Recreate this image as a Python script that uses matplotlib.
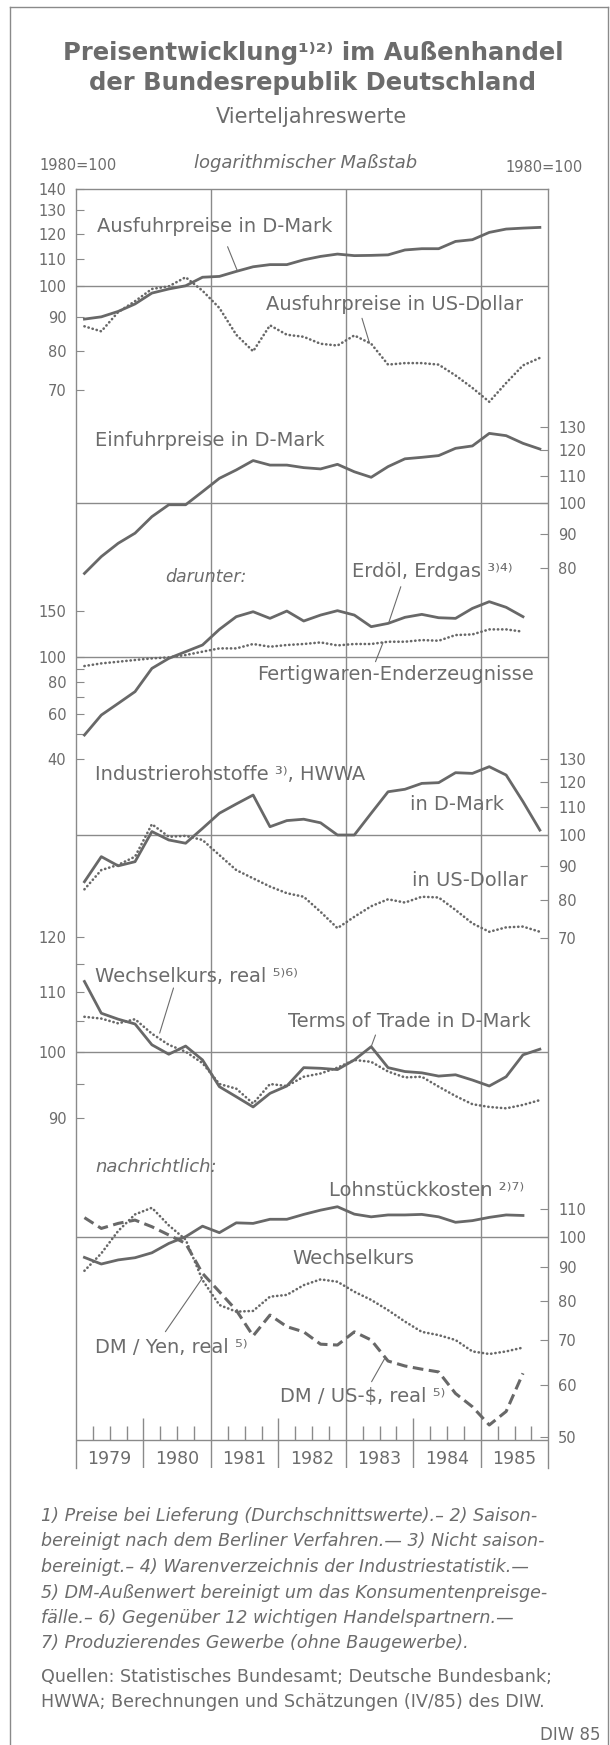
import numpy as np
import matplotlib
matplotlib.use("Agg")
from matplotlib import pyplot as plt
from matplotlib.ticker import NullLocator

# --- Daten: Vierteljahreswerte 1979 I - 1985 IV, 1980 = 100 ---
years = [1979, 1980, 1981, 1982, 1983, 1984, 1985]
quarters = [1, 2, 3, 4]

ausfuhr_dm = [89.3, 90.0, 91.7, 94.1, 97.7, 99.1, 100.2, 103.2, 103.5, 105.3, 107.0, 107.8, 107.8, 109.6,
              110.9, 111.8, 111.2, 111.3, 111.5, 113.4, 113.9, 113.9, 116.8, 117.5, 120.5, 121.9, 122.3, 122.6]
ausfuhr_usd = [87.1, 85.6, 91.5, 95.0, 99.1, 100.0, 103.2, 98.5, 92.8, 84.6, 79.9, 87.4, 84.6, 84.0,
               82.0, 81.5, 84.4, 82.0, 76.3, 76.7, 76.7, 76.3, 73.5, 70.4, 67.1, 71.6, 76.1, 78.1]
einfuhr_dm = [78.5, 83.2, 87.1, 90.2, 95.5, 99.5, 99.5, 104.1, 109.0, 112.2, 115.9, 114.1, 114.1, 113.1,
              112.6, 114.4, 111.5, 109.4, 113.5, 116.6, 117.2, 117.9, 120.9, 121.9, 127.3, 126.3, 123.0, 120.6]
erdoel_erdgas = [49.7, 59.4, 65.9, 73.2, 90.1, 98.5, 104.6, 111.0, 127.6, 142.9, 149.4, 140.8, 150.3, 137.5,
                 145.0, 150.8, 145.0, 130.7, 134.6, 142.1, 145.9, 141.6, 140.8, 153.9, 163.4, 155.4, 142.9]
fertigwaren = [92.0, 94.2, 95.6, 97.1, 98.5, 99.4, 101.5, 104.6, 107.7, 107.7, 112.0, 109.3, 111.0, 112.0,
               113.6, 110.6, 112.0, 112.0, 114.3, 114.3, 116.0, 115.3, 121.3, 122.0, 127.6, 127.6, 125.0]
rohstoffe_dm = [85.1, 92.8, 89.9, 91.2, 101.2, 98.3, 97.2, 102.3, 107.8, 111.3, 114.8, 102.9, 105.1, 105.6,
                104.3, 100.0, 100.0, 107.8, 116.1, 117.1, 119.5, 119.8, 124.0, 123.7, 126.6, 123.0, 112.2, 101.7]
rohstoffe_usd = [82.9, 88.6, 90.2, 92.8, 103.8, 99.4, 99.7, 98.3, 93.3, 88.6, 86.1, 83.7, 81.8, 80.8,
                 76.7, 72.5, 75.4, 78.2, 80.1, 79.2, 80.8, 80.6, 77.2, 73.7, 71.6, 72.7, 72.9, 71.6]
terms_of_trade = [111.8, 106.3, 105.3, 104.5, 101.1, 99.6, 100.9, 98.7, 94.6, 93.1, 91.6, 93.6, 94.7, 97.5,
                  97.4, 97.2, 98.7, 100.8, 97.5, 96.9, 96.7, 96.2, 96.4, 95.6, 94.7, 96.1, 99.5, 100.4]
wechselkurs_real = [105.7, 105.4, 104.6, 105.3, 102.9, 101.1, 100.0, 98.2, 95.0, 94.3, 92.1, 95.0, 94.7, 96.1,
                    96.6, 97.5, 98.7, 98.4, 96.9, 96.0, 96.1, 94.6, 93.2, 92.0, 91.6, 91.4, 91.9, 92.6]
lohnstueckkosten = [93.1, 91.0, 92.3, 93.0, 94.6, 97.7, 100.0, 103.7, 101.4, 104.9, 104.7, 106.2, 106.2, 108.0,
                    109.6, 110.9, 108.1, 107.1, 107.8, 107.8, 108.0, 107.1, 105.1, 105.7, 106.9, 107.8, 107.6]
dm_yen = [88.9, 94.4, 102.0, 108.0, 110.5, 104.0, 99.0, 86.1, 79.0, 77.2, 77.4, 81.3, 81.8, 84.6,
          86.3, 85.6, 82.7, 80.4, 77.6, 74.6, 72.0, 71.2, 70.0, 67.3, 66.7, 67.3, 68.2]
dm_usd = [106.8, 102.9, 104.7, 105.9, 103.5, 100.6, 97.7, 88.1, 82.7, 77.6, 71.0, 76.3, 73.3, 72.0,
          69.0, 68.8, 72.0, 70.0, 65.1, 64.0, 63.3, 62.7, 58.2, 55.6, 52.2, 54.7, 62.4]

# Quartalsmitte auf der Jahresachse
t = np.array([y + (q - 0.5) / 4 for y in years for q in quarters])

# --- Layout (Pixel der Vorlage) ---
W, H = 610, 1745
L, R = 76, 548.3
TOP, XAXIS, BOTTOM = 189, 1440, 1468

TXT = "#6c6c6c"
LINE = "#686868"
GRID = "#8a8a8a"

plt.rcParams["font.family"] = ["DejaVu Sans"]


def fx(x):
    return x / W


def fy(y):
    return 1 - y / H


fig = plt.figure(figsize=(W / 100, H / 100), dpi=100)
fig.patch.set_facecolor("white")

# Rahmen
for xs, ys in [([10, 10], [7, H]), ([10, 608], [7, 7]), ([608, 608], [7, H])]:
    fig.add_artist(plt.Line2D([fx(v) for v in xs], [fy(v) for v in ys], color=GRID, lw=1.0,
                              transform=fig.transFigure))

# --- Grundachse: Rahmen, Jahresteilung ---
ax0 = fig.add_axes([fx(L), fy(BOTTOM), fx(R) - fx(L), fy(TOP) - fy(BOTTOM)])
ax0.set_xlim(years[0], years[-1] + 1)
ax0.set_ylim(BOTTOM, TOP)
ax0.set_xticks([])
ax0.set_yticks([])
for side in ["left", "right", "top"]:
    ax0.spines[side].set_color(GRID)
    ax0.spines[side].set_linewidth(1.0)
ax0.spines["bottom"].set_visible(False)
ax0.axhline(XAXIS, color=GRID, lw=1.0)
for y in years[1:]:
    if y % 2 == 1:
        ax0.axvline(y, color=GRID, lw=1.0)
    else:
        ax0.vlines(y, XAXIS - 22, BOTTOM, color=GRID, lw=1.0)
for y in years:
    ax0.vlines([y + q / 4 for q in [1, 2, 3]], XAXIS - 14, XAXIS, color=GRID, lw=1.0)
    ax0.text(y + 0.5, XAXIS + 19, str(y), ha="center", va="center", fontsize=12.5, color=TXT)

plot_rect = [fx(L), fy(XAXIS), fx(R) - fx(L), fy(TOP) - fy(XAXIS)]


def panel(y100, k, ticks, labels, side):
    ax = fig.add_axes(plot_rect, facecolor="none")
    ax.set_yscale("log")
    ax.set_ylim(100 * 10 ** ((y100 - XAXIS) / k), 100 * 10 ** ((y100 - TOP) / k))
    ax.set_xlim(years[0], years[-1] + 1)
    for s in ax.spines.values():
        s.set_visible(False)
    ax.xaxis.set_visible(False)
    ax.set_yticks(ticks, labels)
    ax.yaxis.set_minor_locator(NullLocator())
    if side == "right":
        ax.yaxis.tick_right()
    ax.tick_params(axis="y", direction="in", length=6, width=0.8, color=GRID,
                   labelsize=10.5, labelcolor=TXT, pad=7)
    ax.axhline(100, color=GRID, lw=1.0)
    return ax


def solid(ax, v):
    ax.plot(t[:len(v)], v, color=LINE, lw=2.0, solid_joinstyle="round")


def dotted(ax, v):
    ax.plot(t[:len(v)], v, color=LINE, lw=1.9, linestyle=(0, (0.1, 1.5)), dash_capstyle="round")


def dashed(ax, v):
    ax.plot(t[:len(v)], v, color=LINE, lw=2.2, linestyle=(0, (3.5, 1.8)), dash_capstyle="butt")


def leader(ax, x0, y0, xd, vd):
    ax.annotate("", xy=(xd, vd), xycoords="data", xytext=(fx(x0), fy(y0)),
                textcoords="figure fraction",
                arrowprops=dict(arrowstyle="-", color=TXT, lw=0.8, shrinkA=0, shrinkB=0))


def label(x, y, s, size=14, style="normal"):
    fig.text(fx(x), fy(y), s, ha="left", va="center", fontsize=size, color=TXT, style=style)


# Ausfuhrpreise
axA = panel(285, 667, [70, 80, 90, 100, 110, 120, 130, 140],
            ["70", "80", "90", "100", "110", "120", "130", "140"], "left")
solid(axA, ausfuhr_dm)
dotted(axA, ausfuhr_usd)
label(97, 227, "Ausfuhrpreise in D-Mark")
label(266, 305, "Ausfuhrpreise in US-Dollar")
leader(axA, 227.6, 246.7, 1981.39, 105.6)
leader(axA, 362, 318.3, 1983.35, 82.2)

# Einfuhrpreise
axB = panel(503.3, 667, [80, 90, 100, 110, 120, 130], ["80", "90", "100", "110", "120", "130"], "right")
solid(axB, einfuhr_dm)
label(95, 440.7, "Einfuhrpreise in D-Mark")

# darunter
axC = panel(656.7, 258, [40, 50, 60, 70, 80, 90, 100, 150],
            ["40", "", "60", "", "80", "", "100", "150"], "left")
solid(axC, erdoel_erdgas)
dotted(axC, fertigwaren)
label(165, 577, "darunter:", size=12.5, style="italic")
label(352, 571.7, "Erdöl, Erdgas ³⁾⁴⁾")
label(257, 675, "Fertigwaren-Enderzeugnisse")
leader(axC, 400.8, 586.7, 1983.64, 136.7)
leader(axC, 375.5, 661.7, 1983.55, 113.3)

# Industrierohstoffe
axD = panel(835, 667, [70, 80, 90, 100, 110, 120, 130],
            ["70", "80", "90", "100", "110", "120", "130"], "right")
solid(axD, rohstoffe_dm)
dotted(axD, rohstoffe_usd)
label(95, 775, "Industrierohstoffe ³⁾, HWWA")
label(410.5, 805, "in D-Mark")
label(412, 880, "in US-Dollar")

# Wechselkurs, Terms of Trade
axE = panel(1051.7, 1450, [90, 95, 100, 105, 110, 115, 120],
            ["90", "", "100", "", "110", "", "120"], "left")
solid(axE, terms_of_trade)
dotted(axE, wechselkurs_real)
label(95, 976.7, "Wechselkurs, real ⁵⁾⁶⁾")
label(288, 1021.7, "Terms of Trade in D-Mark")
leader(axE, 173.5, 988, 1980.24, 103.0)
leader(axE, 375.5, 1035, 1983.375, 100.8)

# nachrichtlich
axF = panel(1236.7, 667, [50, 60, 70, 80, 90, 100, 110],
            ["50", "60", "70", "80", "90", "100", "110"], "right")
solid(axF, lohnstueckkosten)
dotted(axF, dm_yen)
dashed(axF, dm_usd)
label(95, 1166.7, "nachrichtlich:", size=13, style="italic")
label(329, 1190.7, "Lohnstückkosten ²⁾⁷⁾")
label(292, 1258.3, "Wechselkurs")
label(95, 1347.3, "DM / Yen, real ⁵⁾")
label(280, 1396.7, "DM / US-$, real ⁵⁾")
leader(axF, 165.4, 1331.7, 1980.87, 86.6)
leader(axF, 371.6, 1381.7, 1983.58, 65.8)

# --- Titel und Kopf ---
fig.text(fx(313), fy(53), "Preisentwicklung¹⁾²⁾ im Außenhandel", ha="center", va="center",
         fontsize=17.5, fontweight="bold", color=TXT)
fig.text(fx(313), fy(83), "der Bundesrepublik Deutschland", ha="center", va="center",
         fontsize=17.5, fontweight="bold", color=TXT)
fig.text(fx(311), fy(117), "Vierteljahreswerte", ha="center", va="center", fontsize=15, color=TXT)
fig.text(fx(39), fy(165), "1980=100", ha="left", va="center", fontsize=10.5, color=TXT)
fig.text(fx(583), fy(167), "1980=100", ha="right", va="center", fontsize=10.5, color=TXT)
fig.text(fx(306), fy(163), "logarithmischer Maßstab", ha="center", va="center", fontsize=13,
         style="italic", color=TXT)

# --- Fussnoten ---
notes = [
    "1) Preise bei Lieferung (Durchschnittswerte).– 2) Saison-",
    "bereinigt nach dem Berliner Verfahren.— 3) Nicht saison-",
    "bereinigt.– 4) Warenverzeichnis der Industriestatistik.—",
    "5) DM-Außenwert bereinigt um das Konsumentenpreisge-",
    "fälle.– 6) Gegenüber 12 wichtigen Handelspartnern.—",
    "7) Produzierendes Gewerbe (ohne Baugewerbe).",
]
for i, s in enumerate(notes):
    fig.text(fx(41), fy(1516 + i * 25.5), s, ha="left", va="center", fontsize=12.6,
             style="italic", color=TXT)
fig.text(fx(41), fy(1676.7), "Quellen: Statistisches Bundesamt; Deutsche Bundesbank;", ha="left",
         va="center", fontsize=12.6, color=TXT)
fig.text(fx(41), fy(1701.7), "HWWA; Berechnungen und Schätzungen (IV/85) des DIW.", ha="left",
         va="center", fontsize=12.6, color=TXT)
fig.text(fx(601), fy(1735), "DIW 85", ha="right", va="center", fontsize=12, color=TXT)

fig.savefig("out.png", dpi=100, facecolor="white")
plt.close(fig)
